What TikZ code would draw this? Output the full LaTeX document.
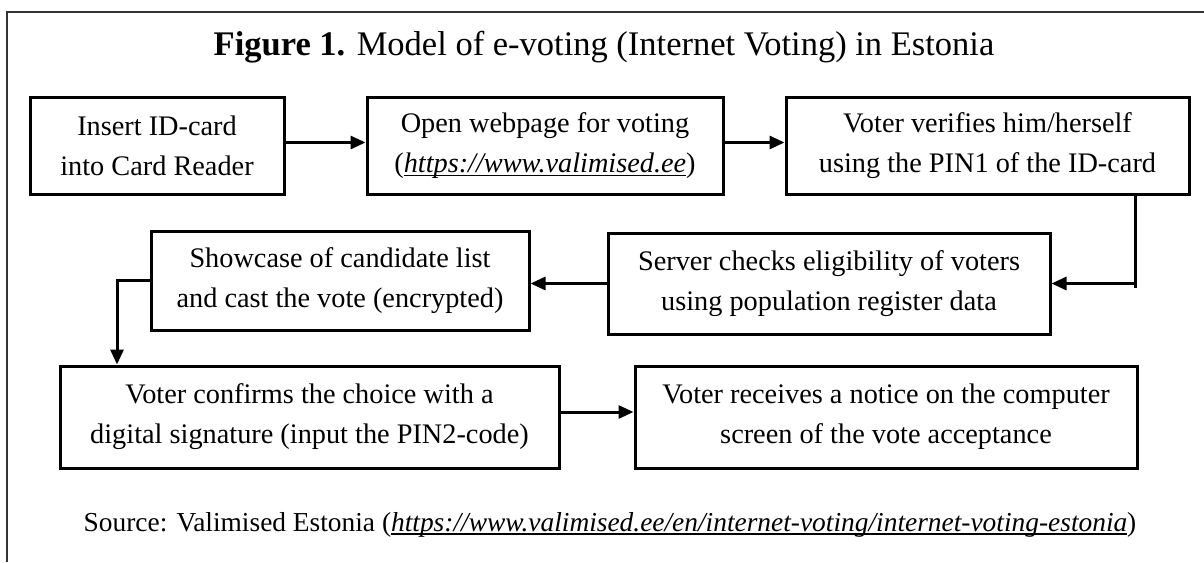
\documentclass[tikz,border=0pt]{standalone}
\usepackage{fontspec}
\setmainfont{Liberation Serif}
\usetikzlibrary{arrows.meta}
\newsavebox{\myulbox}
\newcommand{\myul}[2][3.5pt]{\sbox{\myulbox}{#2}\rlap{\rule[-#1]{\wd\myulbox}{1.3pt}}\usebox{\myulbox}}
\tikzset{
  box/.style={draw=black, line width=3pt, align=center, inner sep=0pt, font=\fontsize{28.3}{40}\selectfont},
  conn/.style={line width=3pt, -{Triangle[length=15pt,width=13pt]}},
  plainline/.style={line width=3pt},
  framelines/.style={draw=black!80, line width=2pt},
}
\begin{document}
\begin{tikzpicture}[x=1pt,y=-1pt]
\useasboundingbox (0,0) rectangle (1204,562);
\fill[white] (0,0) rectangle (1204,562);
\draw[framelines] (7,562) -- (7,12) -- (1204,12);

\node[anchor=base, font=\fontsize{34.5}{40}\selectfont] (title) at (604,55)
  {\textbf{Figure 1.} Model of e-voting (Internet Voting) in Estonia};

\node[box, minimum width=254pt, minimum height=97pt] (b1) at (157,145.5)
  {Insert ID-card\\into Card Reader};
\node[box, minimum width=356pt, minimum height=97pt] (b2) at (545,145.5)
  {Open webpage for voting\\(\myul{\textit{https://www.valimised.ee}})};
\node[box, minimum width=403pt, minimum height=97pt] (b3) at (987.5,145.5)
  {Voter verifies him/herself\\using the PIN1 of the ID-card};
\node[box, minimum width=442pt, minimum height=101pt] (b4) at (829,283.5)
  {Server checks eligibility of voters\\using population register data};
\node[box, minimum width=378pt, minimum height=99pt] (b5) at (340,280.5)
  {Showcase of candidate list\\and cast the vote (encrypted)};
\node[box, minimum width=499pt, minimum height=102pt] (b6) at (309.5,417)
  {Voter confirms the choice with a\\digital signature (input the PIN2-code)};
\node[box, minimum width=502pt, minimum height=102pt] (b7) at (886,417)
  {Voter receives a notice on the computer\\screen of the vote acceptance};

\node[anchor=base, font=\fontsize{27.4}{30}\selectfont] (src) at (610,531)
  {Source: Valimised Estonia (\myul{\textit{https://www.valimised.ee/en/internet-voting/internet-voting-estonia}})};

\coordinate (t) at (1135,282);
\coordinate (c2) at (117,281);

\draw[conn] ([yshift=3pt]b1.east) -- ([yshift=3pt]b1.east -| b2.west);
\draw[conn] ([yshift=3pt]b2.east) -- ([yshift=3pt]b2.east -| b3.west);
\draw[conn] (b3.south -| t) |- (b4.east);
\draw[plainline] (t |- b4.east) -- ++(0,4);
\draw[conn] (b4.west) -- (b4.west -| b5.east);
\draw[conn] (b5.west) -| (c2 |- b6.north);
\draw[conn] ([yshift=5pt]b6.east) -- ([yshift=5pt]b6.east -| b7.west);
\end{tikzpicture}
\end{document}
